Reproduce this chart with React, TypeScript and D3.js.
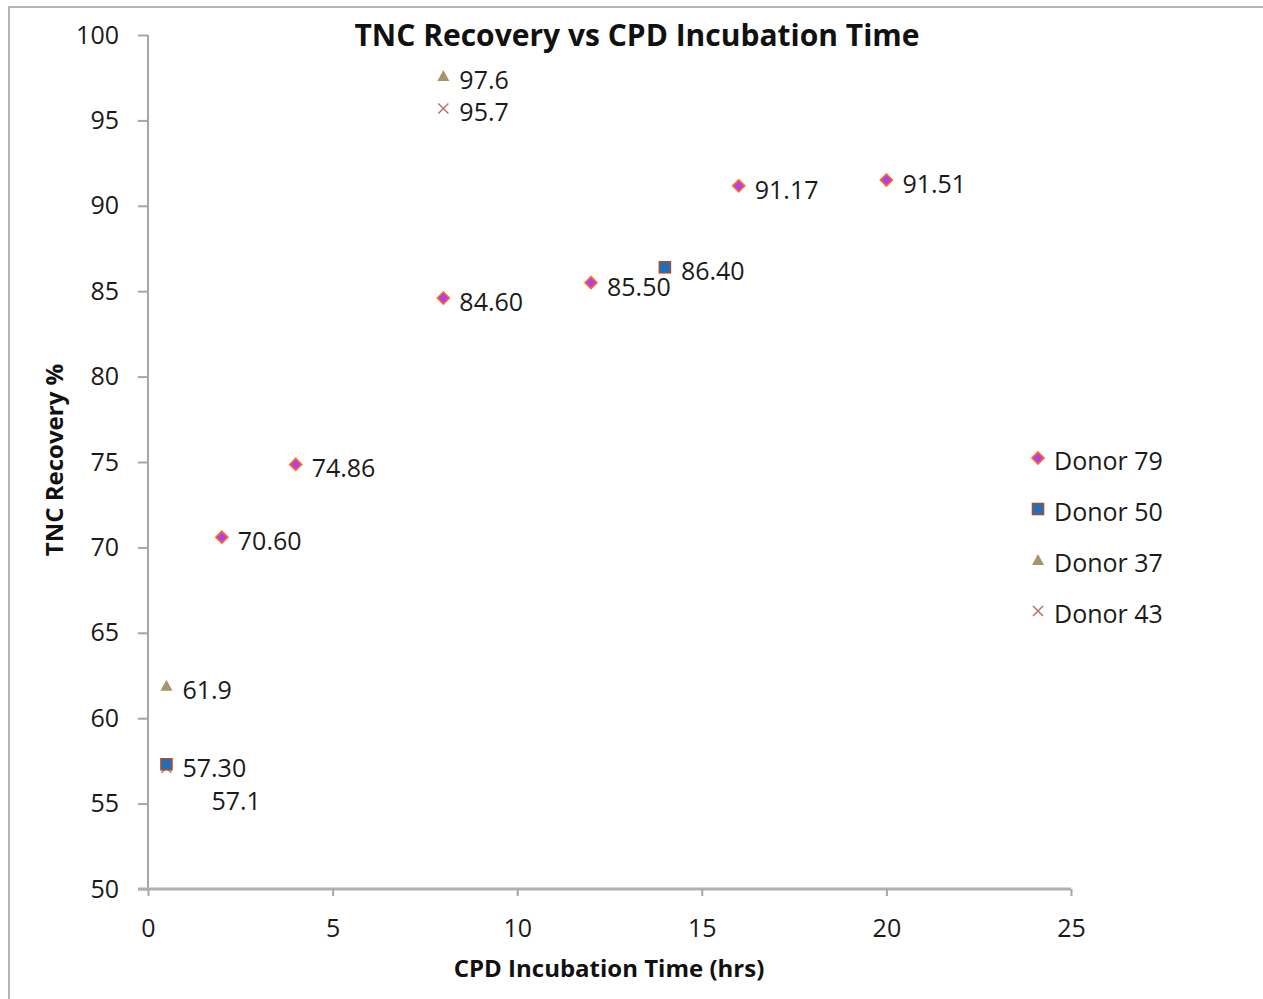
import React, { useRef, useEffect } from 'react';
import * as d3 from 'd3';

const donorNames = ['Donor 79', 'Donor 50', 'Donor 37', 'Donor 43'];
const donor79Hours = [2, 4, 8, 12, 16, 20];
const donor79Values = [70.6, 74.86, 84.6, 85.5, 91.17, 91.51];
const donor79Labels = ['70.60', '74.86', '84.60', '85.50', '91.17', '91.51'];
const donor50Hours = [0.5, 14];
const donor50Values = [57.3, 86.4];
const donor50Labels = ['57.30', '86.40'];
const donor37Hours = [0.5, 8];
const donor37Values = [61.9, 97.6];
const donor37Labels = ['61.9', '97.6'];
const donor43Hours = [0.5, 8];
const donor43Values = [57.1, 95.7];
const donor43Labels = ['57.1', '95.7'];
const xTicks = [0, 5, 10, 15, 20, 25];
const yTicks = [50, 55, 60, 65, 70, 75, 80, 85, 90, 95, 100];

const FONT = '"Open Sans", "Noto Sans", sans-serif';
const W = 1263;
const H = 999;

type Pt = { x: number; y: number; label: string; series: number };

const App: React.FC = () => {
    const ref = useRef<SVGSVGElement>(null);

    useEffect(() => {
        if (!ref.current) return;
        const svg = d3.select(ref.current);
        svg.selectAll('*').remove();

        const x = d3.scaleLinear().domain([0, 25]).range([148, 1071]);
        const y = d3.scaleLinear().domain([50, 100]).range([889, 35]);

        // outer chart border
        svg.append('rect')
            .attr('x', 9).attr('y', 7)
            .attr('width', W + 20).attr('height', H + 20)
            .attr('fill', 'white')
            .attr('stroke', '#b5b5b5')
            .attr('stroke-width', 2);

        const yAxis = svg.append('g')
            .attr('transform', 'translate(148,0)')
            .call(d3.axisLeft(y).tickValues(yTicks).tickSize(10).tickSizeOuter(0).tickPadding(19));
        yAxis.select('.domain').attr('stroke', '#a6a6a6').attr('stroke-width', 2)
            .attr('d', `M0,${y(100)}V${y(50)}`);
        yAxis.selectAll('.tick line').attr('stroke', '#a6a6a6').attr('stroke-width', 2);
        yAxis.selectAll('.tick text')
            .attr('font-family', FONT).attr('font-size', 25).attr('fill', '#1a1a1a');

        const xAxis = svg.append('g')
            .attr('transform', 'translate(0,889)')
            .call(d3.axisBottom(x).tickValues(xTicks).tickSize(7).tickSizeOuter(0).tickPadding(23));
        xAxis.select('.domain').attr('stroke', '#b0b0b0').attr('stroke-width', 3)
            .attr('d', `M138,0H${x(25)}`);
        xAxis.selectAll('.tick line').attr('stroke', '#a6a6a6').attr('stroke-width', 2);
        xAxis.selectAll('.tick text')
            .attr('font-family', FONT).attr('font-size', 25).attr('fill', '#1a1a1a');

        // titles
        svg.append('text')
            .attr('x', 637).attr('y', 46)
            .attr('text-anchor', 'middle')
            .attr('font-family', FONT).attr('font-weight', 'bold').attr('font-size', 30)
            .attr('fill', '#111')
            .text('TNC Recovery vs CPD Incubation Time');
        svg.append('text')
            .attr('x', 609).attr('y', 977)
            .attr('text-anchor', 'middle')
            .attr('font-family', FONT).attr('font-weight', 'bold').attr('font-size', 24)
            .attr('fill', '#111')
            .text('CPD Incubation Time (hrs)');
        svg.append('text')
            .attr('transform', 'translate(63,460) rotate(-90)')
            .attr('text-anchor', 'middle')
            .attr('font-family', FONT).attr('font-weight', 'bold').attr('font-size', 24)
            .attr('fill', '#111')
            .text('TNC Recovery %');

        const drawMarker = (g: d3.Selection<SVGGElement, unknown, null, undefined>, s: number) => {
            if (s === 0) {
                g.append('path').attr('d', 'M0,-6L6,0L0,6L-6,0Z')
                    .attr('fill', '#b03ff0').attr('stroke', '#ff6a1f').attr('stroke-width', 1.6);
            } else if (s === 1) {
                g.append('rect').attr('x', -5.5).attr('y', -5.5).attr('width', 11).attr('height', 11)
                    .attr('fill', '#1f6fc0').attr('stroke', '#a0522d').attr('stroke-width', 1.6);
            } else if (s === 2) {
                g.append('path').attr('d', 'M0,-6L6,5L-6,5Z').attr('fill', '#a8946c');
            } else {
                g.append('path').attr('d', 'M-5,-5L5,5M-5,5L5,-5')
                    .attr('stroke', '#b5736a').attr('stroke-width', 1.5).attr('fill', 'none');
            }
        };

        const series = [
            { hours: donor79Hours, values: donor79Values, labels: donor79Labels },
            { hours: donor50Hours, values: donor50Values, labels: donor50Labels },
            { hours: donor37Hours, values: donor37Values, labels: donor37Labels },
            { hours: donor43Hours, values: donor43Values, labels: donor43Labels },
        ];
        const points: Pt[] = [];
        // draw in reverse so Donor 79 / Donor 50 sit on top
        [3, 2, 1, 0].forEach(s => {
            series[s].hours.forEach((h, i) => {
                points.push({ x: h, y: series[s].values[i], label: series[s].labels[i], series: s });
            });
        });

        points.forEach(p => {
            const g = svg.append('g').attr('transform', `translate(${x(p.x)},${y(p.y)})`);
            drawMarker(g, p.series);
        });

        points.forEach(p => {
            let dx = 16;
            let dy = 13;
            if (p.series === 3 && p.x === 0.5) { dx = 45; dy = 42; }
            svg.append('text')
                .attr('x', x(p.x) + dx).attr('y', y(p.y) + dy)
                .attr('font-family', FONT).attr('font-size', 25).attr('fill', '#1a1a1a')
                .text(p.label);
        });

        // legend
        donorNames.forEach((name, i) => {
            const ly = 458 + i * 51;
            const g = svg.append('g').attr('transform', `translate(1038,${ly})`);
            drawMarker(g, i);
            svg.append('text')
                .attr('x', 1054).attr('y', ly + 12)
                .attr('font-family', FONT).attr('font-size', 25).attr('fill', '#1a1a1a')
                .text(name);
        });
    }, []);

    return (
        <div style={{ position: 'absolute', left: 0, top: 0, width: W, height: H, overflow: 'hidden' }}>
            <svg ref={ref} width={W} height={H} style={{ display: 'block' }} />
        </div>
    );
};

export default App;
